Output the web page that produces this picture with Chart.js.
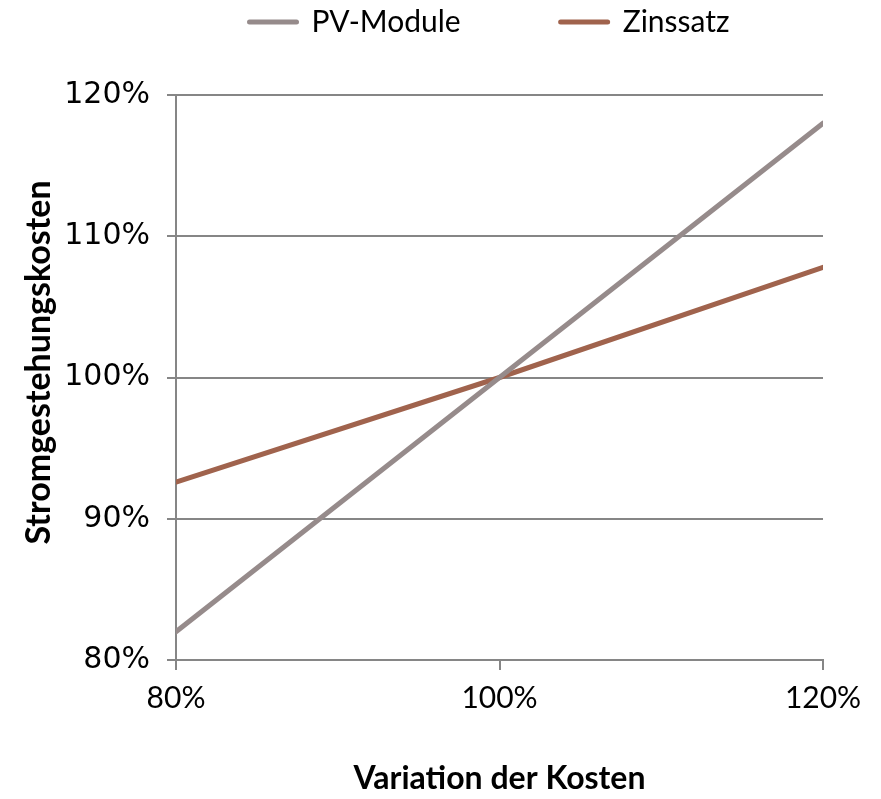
<!DOCTYPE html>
<html>
<head>
<meta charset="utf-8">
<script src="https://cdn.jsdelivr.net/npm/chart.js@4.4.1/dist/chart.umd.min.js"></script>
<style>
html,body{margin:0;padding:0;background:#fff;}
#wrap{width:881px;height:799px;}
</style>
</head>
<body>
<div id="wrap"><canvas id="c" width="881" height="799"></canvas></div>
<script>
const xValues = [80, 100, 120];
const pvModule = [82.0, 100, 118.0];
const zinssatz = [92.6, 100, 107.8];
const seriesNames = ['PV-Module', 'Zinssatz'];
const xTicks = [80, 100, 120];
const yTicks = [80, 90, 100, 110, 120];
const xTitle = 'Variation der Kosten';
const yTitle = 'Stromgestehungskosten';

const toPts = arr => arr.map((v, i) => ({x: xValues[i], y: v}));
const gridColor = '#868686';
const legendPad = 100;

const layoutTweak = {
  id: 'layoutTweak',
  beforeInit(chart) {
    const lg = chart.legend;
    const origFit = lg.fit;
    lg.fit = function () { origFit.call(this); this.height = 95; };
    const origDraw = lg._draw;
    lg._draw = function () {
      const ctx = this.ctx;
      ctx.save();
      const first = this.legendHitBoxes && this.legendHitBoxes[0];
      const dx = first ? 249.5 - first.left : 0;
      ctx.translate(dx, -(legendPad - 7));
      origDraw.call(this);
      ctx.restore();
    };
  },
  afterUpdate(chart) {
    const s = chart.scales.y;
    if (s && !s._titlePatched) {
      const o = s.drawTitle;
      s.drawTitle = function () {
        const ctx = this.ctx;
        ctx.save();
        ctx.translate(0, -15);
        o.call(this);
        ctx.restore();
      };
      s._titlePatched = true;
    }
  }
};

new Chart(document.getElementById('c'), {
  type: 'line',
  data: {
    datasets: [
      {label: seriesNames[0], data: toPts(pvModule), borderColor: '#968b8b', backgroundColor: '#968b8b', borderWidth: 5, pointRadius: 0, tension: 0, borderCapStyle: 'round'},
      {label: seriesNames[1], data: toPts(zinssatz), borderColor: '#a0634d', backgroundColor: '#a0634d', borderWidth: 5, pointRadius: 0, tension: 0, borderCapStyle: 'round'}
    ]
  },
  options: {
    responsive: false,
    animation: false,
    layout: {padding: {left: 0, right: 58, top: 0, bottom: 0}},
    plugins: {
      tooltip: {enabled: false},
      legend: {
        position: 'top',
        align: 'center',
        labels: {
          color: '#000',
          font: {family: 'Lato', size: 30},
          usePointStyle: true,
          pointStyle: 'line',
          pointStyleWidth: 47,
          boxHeight: 5,
          padding: legendPad,
          generateLabels(chart) {
            return chart.data.datasets.map((d, i) => ({
              text: d.label, fillStyle: d.borderColor, strokeStyle: d.borderColor,
              lineWidth: 5, lineCap: 'round', pointStyle: 'line',
              datasetIndex: i, fontColor: '#000'
            }));
          }
        }
      }
    },
    scales: {
      x: {
        type: 'linear',
        min: 80, max: 120,
        afterBuildTicks(s) { s.ticks = xTicks.map(v => ({value: v})); },
        afterFit(s) { s.height = 799 - 660; },
        grid: {display: true, drawOnChartArea: false, drawTicks: true, tickLength: 10, color: gridColor, lineWidth: 2},
        border: {display: true, color: gridColor, width: 2},
        ticks: {color: '#000', font: {family: 'Lato', size: 30}, padding: 10, callback: v => v + '%'},
        title: {display: true, text: xTitle, color: '#000', font: {family: 'Lato', size: 32, weight: 'bold'}, padding: {top: 0, bottom: 1}}
      },
      y: {
        type: 'linear',
        min: 80, max: 120,
        afterBuildTicks(s) { s.ticks = yTicks.map(v => ({value: v})); },
        afterFit(s) { s.width = 176; },
        grid: {display: true, drawOnChartArea: true, drawTicks: true, tickLength: 9, color: gridColor, lineWidth: 2},
        border: {display: true, color: gridColor, width: 2},
        ticks: {color: '#000', font: {family: 'DejaVu Sans', size: 30}, padding: 17, callback: v => v + '%'},
        title: {display: true, text: yTitle, color: '#000', font: {family: 'Lato', size: 34, weight: 'bold'}, padding: {top: 19, bottom: 0}}
      }
    }
  },
  plugins: [layoutTweak]
});
</script>
</body>
</html>
